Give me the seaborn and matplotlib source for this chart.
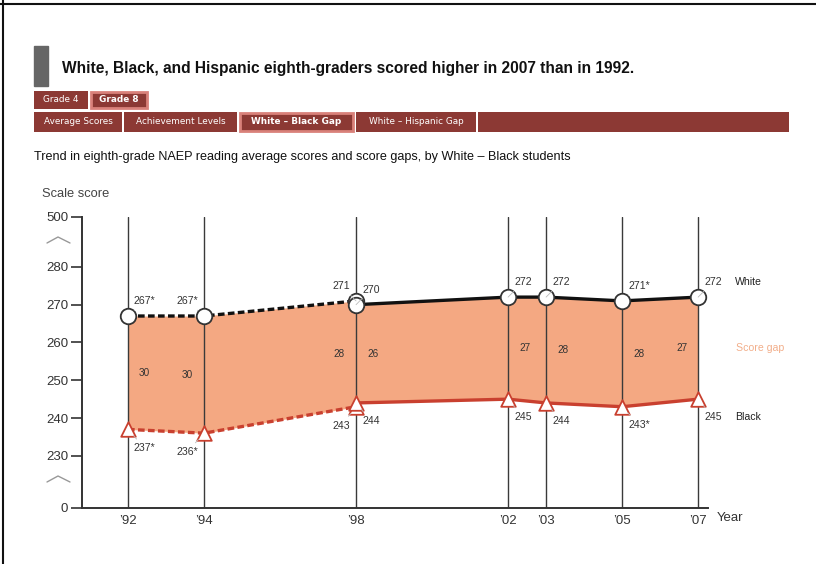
import matplotlib
matplotlib.use("Agg")
import matplotlib.pyplot as plt
from matplotlib.patches import Rectangle
from matplotlib.lines import Line2D
import pandas as pd
import seaborn as sns

# Grade 8 reading, accommodations not permitted
years_np = [1992, 1994, 1998]
white_np = [267, 267, 271]
black_np = [237, 236, 243]
white_np_labels = ["267*", "267*", "271"]
black_np_labels = ["237*", "236*", "243"]
gap_np = ["30", "30", "28"]

# Grade 8 reading, accommodations permitted
years_ap = [1998, 2002, 2003, 2005, 2007]
white_ap = [270, 272, 272, 271, 272]
black_ap = [244, 245, 244, 243, 245]
white_ap_labels = ["270", "272", "272", "271*", "272"]
black_ap_labels = ["244", "245", "244", "243*", "245"]
gap_ap = ["26", "27", "28", "28", "27"]

year_ticks = [1992, 1994, 1998, 2002, 2003, 2005, 2007]
year_labels = ["\u201992", "\u201994", "\u201998", "\u201902", "\u201903", "\u201905", "\u201907"]
score_ticks = [230, 240, 250, 260, 270, 280]
score_labels = ["230", "240", "250", "260", "270", "280"]
# broken-axis ends: "0" at the bottom, "500" at the top
axis_floor, axis_ceiling = 216.2, 293.2

sns.set_style("white")
plt.rcParams["font.family"] = ["Liberation Sans", "DejaVu Sans"]

W, H = 816, 564
fig = plt.figure(figsize=(W / 100, H / 100), dpi=100)


def fx(x):
    return x / W


def fy(y):
    return 1 - y / H


# ---- page frame ----
fig.add_artist(Line2D([fx(3), fx(3)], [0, 1], color="#111", lw=1.5))
fig.add_artist(Line2D([0, 1], [fy(4), fy(4)], color="#111", lw=1.5))

# ---- header ----
fig.add_artist(Rectangle((fx(34), fy(86)), fx(48) - fx(34), fy(46) - fy(86),
                         transform=fig.transFigure, color="#666666"))
fig.text(fx(62), fy(68), "White, Black, and Hispanic eighth-graders scored higher in 2007 than in 1992.",
         fontsize=11.2, fontweight="bold", va="center", ha="left", color="#111")

tab_red = "#8c3934"
tab_hi = "#d9817a"


def tab(x0, x1, y0, y1, label, bold=False, active=False):
    r = Rectangle((fx(x0), fy(y1)), fx(x1) - fx(x0), fy(y0) - fy(y1),
                  transform=fig.transFigure, facecolor=tab_red,
                  edgecolor=tab_hi if active else tab_red, lw=2 if active else 0)
    fig.add_artist(r)
    if label:
        fig.text(fx((x0 + x1) / 2), fy((y0 + y1) / 2), label, color="white",
                 fontsize=6.4, fontweight="bold" if bold else "normal",
                 ha="center", va="center", family=["DejaVu Sans"])


tab(34, 88, 91, 109, "Grade 4")
tab(91, 147, 92, 108, "Grade 8", bold=True, active=True)
tab(34, 122, 112, 132, "Average Scores")
tab(124, 237, 112, 132, "Achievement Levels")
tab(240, 353, 113, 131, "White \u2013 Black Gap", bold=True, active=True)
tab(356, 476, 112, 132, "White \u2013 Hispanic Gap")
tab(478, 789, 112, 132, "")

fig.text(fx(34), fy(157), "Trend in eighth-grade NAEP reading average scores and score gaps, by White \u2013 Black students",
         fontsize=9.05, ha="left", va="center", color="#111")
fig.text(fx(42), fy(194), "Scale score", fontsize=9.3, ha="left", va="center", color="#444")

# ---- chart ----
ax = fig.add_axes([fx(82), fy(508), fx(708) - fx(82), fy(217) - fy(508)])
ax.set_xlim(1990.79, 2007.26)
ax.set_ylim(axis_floor, axis_ceiling)

fill_c = "#f4a882"
ax.fill_between(years_np, white_np, black_np, color=fill_c, lw=0, zorder=1)
ax.fill_between(years_ap, white_ap, black_ap, color=fill_c, lw=0, zorder=1)

for yr in year_ticks:
    ax.axvline(yr, color="#3a3a3a", lw=1, zorder=2)

line_red = "#c9402f"
df_np = pd.DataFrame({"year": years_np, "white": white_np, "black": black_np})
df_ap = pd.DataFrame({"year": years_ap, "white": white_ap, "black": black_ap})

sns.lineplot(data=df_np, x="year", y="white", ax=ax, color="#111", lw=2.4,
             linestyle=(0, (2, 1)), zorder=3)
sns.lineplot(data=df_np, x="year", y="black", ax=ax, color=line_red, lw=2.4,
             linestyle=(0, (2, 1)), zorder=3)
sns.lineplot(data=df_ap, x="year", y="white", ax=ax, color="#111", lw=2.4, zorder=3)
sns.lineplot(data=df_ap, x="year", y="black", ax=ax, color=line_red, lw=2.4, zorder=3)

for df in (df_np, df_ap):
    sns.scatterplot(data=df, x="year", y="white", ax=ax, marker="o", s=125,
                    facecolor="white", edgecolor="#333", linewidth=1.3, zorder=4)
    sns.scatterplot(data=df, x="year", y="black", ax=ax, marker="^", s=110,
                    facecolor="white", edgecolor=line_red, linewidth=1.3, zorder=4)

# value labels: +1 right of the point, -1 left
sides_np = [1, -1, -1]
sides_ap = [1, 1, 1, 1, 1]
gap_sides_np = [1, -1, -1]
gap_sides_ap = [1, 1, 1, 1, -1]

lbl_kw = dict(fontsize=7.6, color="#333", textcoords="offset pixels", va="center",
              arrowprops=dict(arrowstyle="-", color="#bbbbbb", lw=0.6, shrinkA=1, shrinkB=6))


def put(yr, val, text, side, dy):
    ax.annotate(text, xy=(yr, val), xytext=(6 * side, dy),
                ha="left" if side > 0 else "right", zorder=5, **lbl_kw)


for yr, w, b, wl, bl, s in zip(years_np, white_np, black_np, white_np_labels, black_np_labels, sides_np):
    put(yr, w, wl, s, 15)
    put(yr, b, bl, s, -19)
for yr, w, b, wl, bl, s in zip(years_ap, white_ap, black_ap, white_ap_labels, black_ap_labels, sides_ap):
    put(yr, w, wl, s, 15)
    put(yr, b, bl, s, -18)

for yr, w, b, g, s in list(zip(years_np, white_np, black_np, gap_np, gap_sides_np)) + \
        list(zip(years_ap, white_ap, black_ap, gap_ap, gap_sides_ap)):
    ax.annotate(g, xy=(yr, (w + b) / 2), xytext=(11 * s, 0), textcoords="offset pixels",
                ha="left" if s > 0 else "right", va="center", fontsize=7.2, color="#333", zorder=5)

# series names at the right
ax.annotate("White", xy=(2007, white_ap[-1]), xytext=(37, 15), textcoords="offset pixels",
            fontsize=7.6, color="#222", va="center", ha="left", annotation_clip=False)
ax.annotate("Black", xy=(2007, black_ap[-1]), xytext=(37, -18), textcoords="offset pixels",
            fontsize=7.6, color="#222", va="center", ha="left", annotation_clip=False)
ax.annotate("Score gap", xy=(2007, (white_ap[-1] + black_ap[-1]) / 2), xytext=(38, 0),
            textcoords="offset pixels", fontsize=7.6, color="#f2ae8a", va="center", ha="left",
            annotation_clip=False)

# axes styling
ax.set_yticks([axis_floor] + score_ticks + [axis_ceiling])
ax.set_yticklabels(["0"] + score_labels + ["500"])
ax.set_xticks(year_ticks)
ax.set_xticklabels(year_labels)
ax.tick_params(axis="y", length=8, width=1.2, color="#333", labelsize=9.5, labelcolor="#333", pad=2, left=True)
ax.tick_params(axis="x", length=0, labelsize=9.5, labelcolor="#333", pad=5)
ax.set_xlabel("")
ax.set_ylabel("")
for side in ("top", "right"):
    ax.spines[side].set_visible(False)
for side in ("left", "bottom"):
    ax.spines[side].set_color("#333")
    ax.spines[side].set_linewidth(1.4)

fig.text(fx(717), fy(518), "Year", fontsize=9.5, color="#333", ha="left", va="center")

# axis break marks
for yb in (240, 479):
    fig.add_artist(Line2D([fx(47), fx(58), fx(70)], [fy(yb + 3), fy(yb - 3), fy(yb + 3)],
                          color="#999", lw=1))

fig.savefig("out.png", dpi=100)
